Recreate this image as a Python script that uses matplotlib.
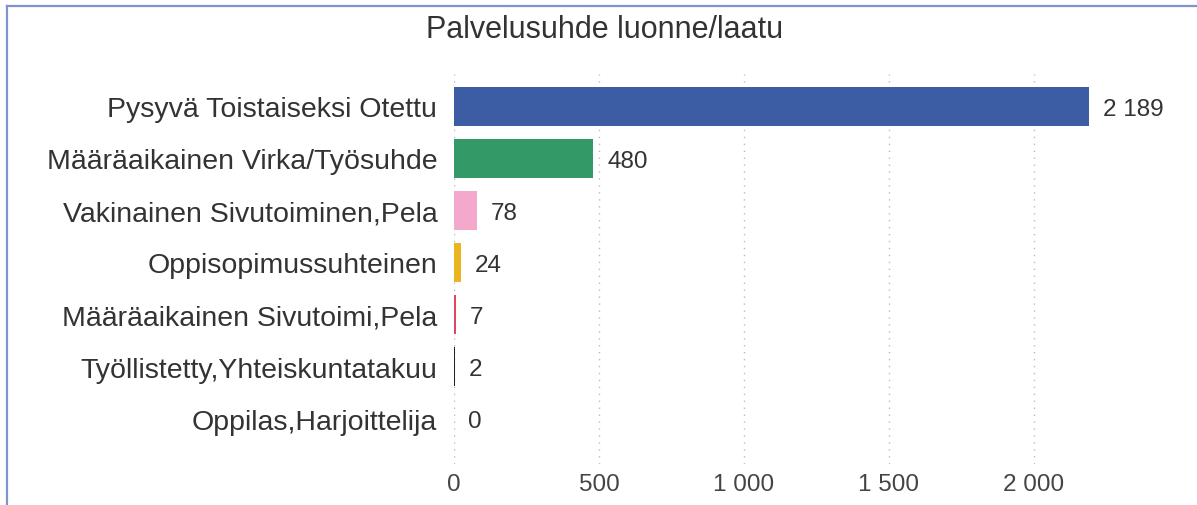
import matplotlib
matplotlib.use("Agg")
import matplotlib.pyplot as plt
from matplotlib.lines import Line2D
from matplotlib.ticker import FuncFormatter, MultipleLocator

plt.rcParams['font.family'] = ['Liberation Sans', 'DejaVu Sans']

categories = [
    "Pysyvä Toistaiseksi Otettu",
    "Määräaikainen Virka/Työsuhde",
    "Vakinainen Sivutoiminen,Pela",
    "Oppisopimussuhteinen",
    "Määräaikainen Sivutoimi,Pela",
    "Työllistetty,Yhteiskuntatakuu",
    "Oppilas,Harjoittelija",
]
values = [2189, 480, 78, 24, 7, 2, 0]
colors = ["#3C5DA3", "#339966", "#F4A8CC", "#EAB520", "#E0465C", "#222222", "#888888"]
title = "Palvelusuhde luonne/laatu"


def fmt(v):
    return f"{int(v):,}".replace(",", " ")


fig = plt.figure(figsize=(11.97, 5.06), dpi=100)
ax = fig.add_axes([454 / 1197, 1 - 465 / 506, (1165 - 454) / 1197, (465 - 75) / 506])

y = list(range(len(categories)))
ax.barh(y, values, height=0.75, color=colors, zorder=2)
ax.set_ylim(len(categories) - 1 + 0.87, -0.62)
ax.set_xlim(0, 2452)
ax.set_yticks(y)
ax.set_yticklabels(categories, fontsize=20.5, color="#333333")
ax.xaxis.set_major_locator(MultipleLocator(500))
ax.xaxis.set_major_formatter(FuncFormatter(lambda v, p: fmt(v)))
ax.tick_params(axis="x", length=0, pad=6.5, labelsize=17.5, labelcolor="#444444")
ax.tick_params(axis="y", length=0, pad=12)
for s in ax.spines.values():
    s.set_visible(False)
ax.grid(axis="x", linestyle=(0, (1, 4)), color="#BBBBBB", linewidth=1, zorder=0)
ax.set_axisbelow(True)

for yi, v in zip(y, values):
    ax.annotate(fmt(v), (v, yi), xytext=(10, 0), textcoords="offset points",
                va="center_baseline", ha="left", fontsize=17.5, color="#333333")

fig.text(605 / 1197, 1 - 30 / 506, title, ha="center", va="center",
         fontsize=22, color="#333333")

# frame border
fig.add_artist(Line2D([7 / 1197, 7 / 1197], [0, 1 - 7 / 506], transform=fig.transFigure,
                      color="#7F93D0", linewidth=1.6))
fig.add_artist(Line2D([7 / 1197, 1], [1 - 7 / 506, 1 - 7 / 506], transform=fig.transFigure,
                      color="#7F93D0", linewidth=1.6))

fig.savefig("out.png", dpi=100, facecolor="white")
